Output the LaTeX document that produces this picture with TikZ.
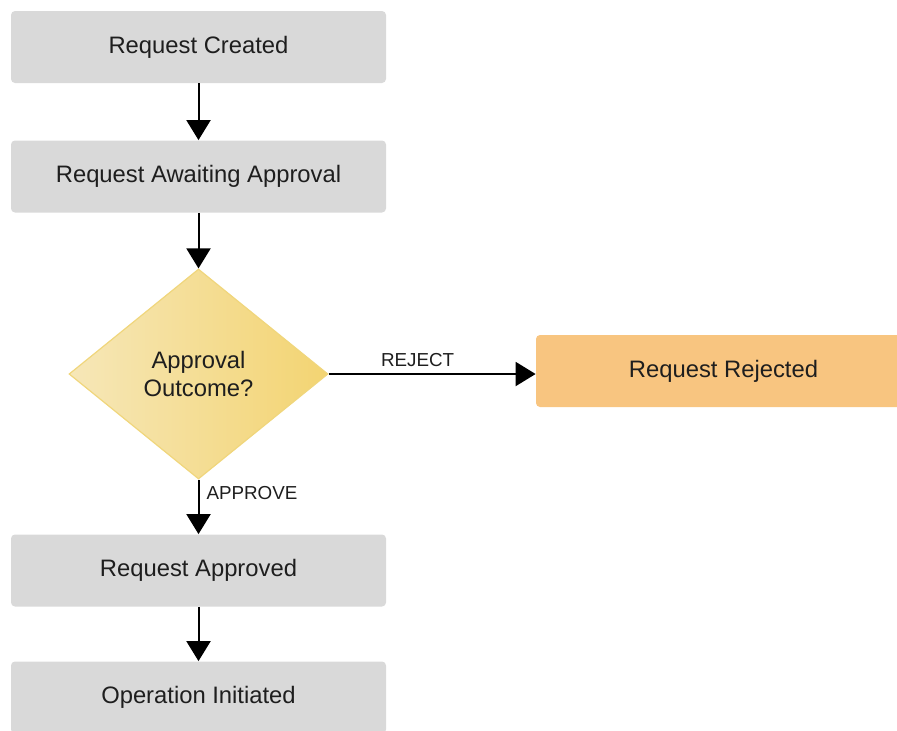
\documentclass[tikz,border=0pt]{standalone}
\usepackage{fontspec}
\setmainfont{Liberation Sans}
\usepackage{xcolor}
\usepackage{tikz}
\usetikzlibrary{arrows.meta,shapes.geometric}
\definecolor{boxgray}{HTML}{D9D9D9}
\definecolor{rejorange}{HTML}{F8C580}
\definecolor{decleft}{HTML}{F6E7B8}
\definecolor{decright}{HTML}{F3D472}
\definecolor{decline}{HTML}{F0D67C}
\definecolor{textdark}{HTML}{1E1E1E}
\newcommand{\flowarrow}{-{Triangle[length=10pt,width=12pt]}}

\begin{document}
\begin{tikzpicture}[x=1pt,y=1pt,
	stagebox/.style={rectangle,rounded corners=2pt,fill=boxgray,minimum width=187.5pt,minimum height=36pt,inner sep=0pt,text=textdark,font=\fontsize{11.9}{14}\selectfont},
	decision/.style={diamond,draw=decline,line width=0.6pt,left color=decleft,right color=decright,minimum width=129.5pt,minimum height=105pt,inner sep=0pt,align=center,text=textdark,font=\fontsize{11.9}{14}\selectfont},
	edgelabel/.style={text=textdark,font=\fontsize{9.4}{11}\selectfont},
	flow/.style={line width=1pt,black}]
					\useasboundingbox (0,0) rectangle (448.5,-365);
					\node[stagebox] (created) at (99.25,-23.5) {Request Created};
					\node[stagebox] (awaiting) at (99.25,-88.25) {Request Awaiting Approval};
					\node[decision] (outcome) at (99.25,-187) {Approval\\Outcome?};
					\node[stagebox,fill=rejorange] (rejected) at (361.75,-185.5) {Request Rejected};
					\node[stagebox] (approved) at (99.25,-285.25) {Request Approved};
					\node[stagebox] (initiated) at (99.25,-348.75) {Operation Initiated};
					\draw[flow,\flowarrow] (created) -- (awaiting);
					\draw[flow,\flowarrow] (awaiting) -- (outcome);
					\draw[flow,\flowarrow] (outcome.east) -- node[edgelabel,above,pos=0.43,inner sep=3pt] (reject) {REJECT} (outcome.east -| rejected.west);
					\draw[flow,\flowarrow] (outcome) -- node[edgelabel,right,pos=0.25,inner sep=3.5pt] (approve) {APPROVE} (approved);
					\draw[flow,\flowarrow] (approved) -- (initiated);
				\end{tikzpicture}
\end{document}
